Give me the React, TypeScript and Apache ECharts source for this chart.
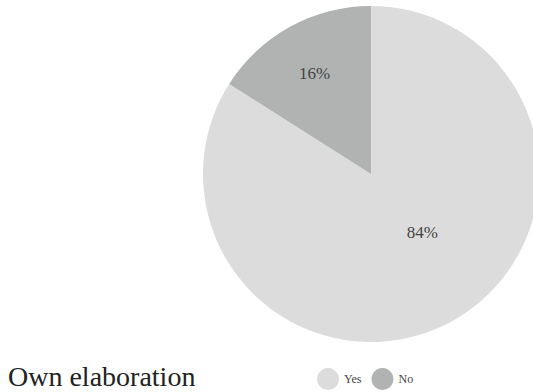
import React, { useEffect, useRef } from "react";
import * as echarts from "echarts";

const categories = ["Yes", "No"];
const values = [84, 16];
const colors = ["#dcdcdc", "#b0b3b2"];
const caption = "Own elaboration";

export default function App() {
  const ref = useRef<HTMLDivElement>(null);
  useEffect(() => {
    if (!ref.current) return;
    const chart = echarts.init(ref.current, null, { renderer: "svg" });
    const labelShift = [
      [9.5, -17.6],
      [-14.5, -24],
    ];
    chart.setOption({
      animation: false,
      color: colors,
      textStyle: { fontFamily: "Liberation Serif" },
      legend: {
        data: categories,
        left: 317,
        top: 368,
        padding: 0,
        icon: "circle",
        itemWidth: 22,
        itemHeight: 22,
        itemGap: 10,
        textStyle: { fontSize: 12, color: "#444", fontFamily: "Liberation Serif" },
      },
      graphic: [
        {
          type: "text",
          left: 8,
          top: 362,
          style: {
            text: caption,
            fontSize: 28,
            fontFamily: "Liberation Serif",
            fill: "#222",
          },
        },
      ],
      series: [
        {
          type: "pie",
          center: [371, 174],
          radius: 168,
          startAngle: 90,
          clockwise: true,
          silent: true,
          label: {
            show: true,
            position: "inside",
            formatter: "{d}%",
            fontSize: 17,
            color: "#444",
            fontFamily: "Liberation Serif",
          },
          labelLine: { show: false },
          labelLayout: (p: any) => ({ dx: labelShift[p.dataIndex][0], dy: labelShift[p.dataIndex][1] }),
          data: categories.map((c, i) => ({ name: c, value: values[i] })),
        },
      ],
    });
    return () => chart.dispose();
  }, []);
  return (
    <div
      ref={ref}
      style={{ position: "absolute", left: 0, top: 0, width: 533, height: 392 }}
    />
  );
}
